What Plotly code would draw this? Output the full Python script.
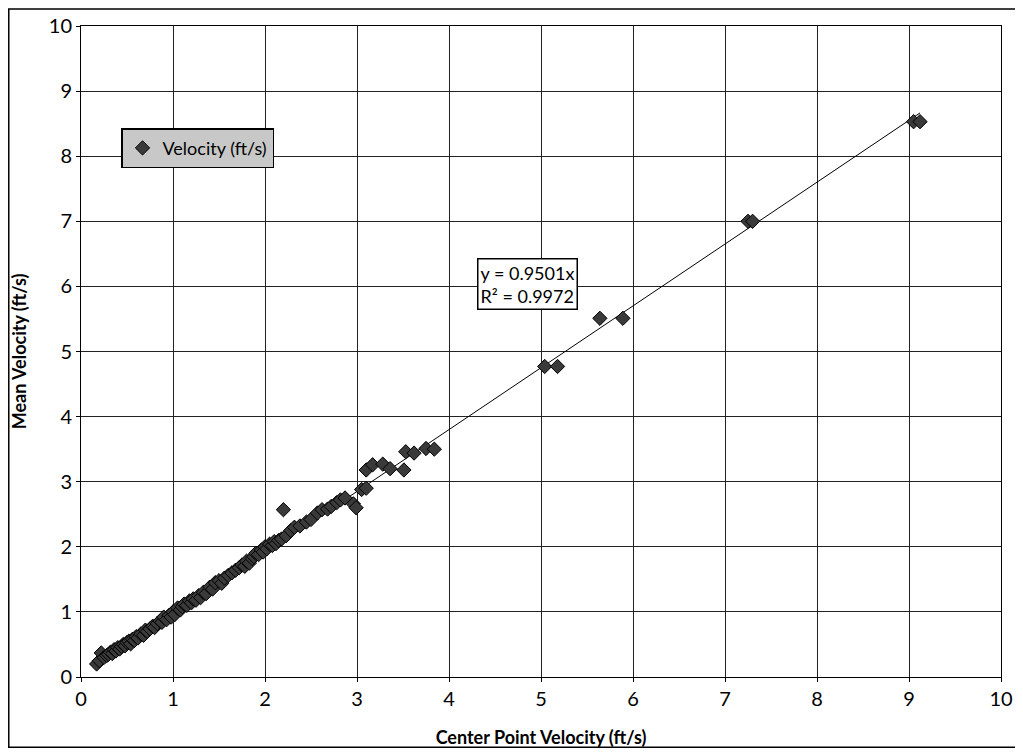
import plotly.graph_objects as go

# Center point velocity (ft/s)
center_velocity = [
    0.17, 0.20, 0.22, 0.25, 0.28, 0.30, 0.32, 0.34, 0.36, 0.38, 0.40, 0.42, 0.44, 0.46, 0.48,
    0.50, 0.52, 0.54, 0.56, 0.58, 0.60, 0.62, 0.65, 0.68, 0.70, 0.72, 0.75, 0.78, 0.80, 0.83,
    0.86, 0.88, 0.90, 0.93, 0.96, 0.98, 1.00, 1.02, 1.05, 1.08, 1.10, 1.12, 1.15, 1.18, 1.20,
    1.22, 1.25, 1.28, 1.30, 1.33, 1.36, 1.40, 1.43, 1.46, 1.50, 1.53, 1.56, 1.60, 1.64, 1.68,
    1.72, 1.75, 1.78, 1.80, 1.83, 1.86, 1.88, 1.90, 1.93, 1.96, 1.98, 2.00, 2.02, 2.05, 2.08,
    2.10, 2.12, 2.15, 2.18,
    2.20, 2.23, 2.28, 2.32, 2.38, 2.45, 2.50, 2.57, 2.62, 2.68, 2.72, 2.78, 2.82, 2.87, 2.96,
    2.99, 3.05, 3.10, 3.10, 3.17, 3.28, 3.36, 3.51, 3.53, 3.62, 3.75, 3.84,
    5.04, 5.18, 5.64, 5.89, 7.25, 7.30, 9.05, 9.12,
]
# Mean velocity (ft/s)
mean_velocity = [
    0.20, 0.25, 0.37, 0.30, 0.33, 0.35, 0.38, 0.36, 0.42, 0.40, 0.45, 0.43, 0.47, 0.50, 0.48,
    0.53, 0.55, 0.51, 0.58, 0.56, 0.62, 0.60, 0.66, 0.64, 0.72, 0.70, 0.74, 0.78, 0.76, 0.82,
    0.86, 0.84, 0.92, 0.88, 0.95, 0.92, 1.00, 0.96, 1.06, 1.03, 1.08, 1.12, 1.10, 1.17, 1.14,
    1.20, 1.18, 1.25, 1.22, 1.30, 1.28, 1.38, 1.35, 1.45, 1.48, 1.44, 1.52, 1.56, 1.60, 1.64,
    1.68, 1.72, 1.70, 1.78, 1.75, 1.82, 1.85, 1.90, 1.88, 1.95, 1.92, 2.00, 1.97, 2.04, 2.02,
    2.08, 2.05, 2.10, 2.12,
    2.57, 2.17, 2.25, 2.30, 2.32, 2.38, 2.42, 2.52, 2.57, 2.58, 2.62, 2.68, 2.72, 2.75, 2.66,
    2.60, 2.88, 2.90, 3.18, 3.26, 3.27, 3.20, 3.18, 3.46, 3.44, 3.51, 3.50,
    4.77, 4.77, 5.51, 5.51, 7.00, 7.00, 8.53, 8.53,
]

trend_slope = 0.9501
trend_r2 = 0.9972
tick_values = [0, 1, 2, 3, 4, 5, 6, 7, 8, 9, 10]

FONT = "Lato"

fig = go.Figure()

x_lo, x_hi = min(center_velocity), max(center_velocity)
fig.add_trace(go.Scatter(
    x=[x_lo, x_hi], y=[trend_slope * x_lo, trend_slope * x_hi],
    mode="lines", line=dict(color="black", width=1), showlegend=False, hoverinfo="skip",
))
fig.add_trace(go.Scatter(
    x=center_velocity, y=mean_velocity, mode="markers", name="Velocity (ft/s)",
    marker=dict(symbol="diamond", size=11, color="#3a3a3a", line=dict(color="#000000", width=1)),
))

fig.add_annotation(
    x=4.85, y=6.04, xref="x", yref="y", showarrow=False,
    text=f"y = {trend_slope}x<br>R² = {trend_r2}",
    font=dict(family=FONT, size=18, color="black"), align="left",
    bgcolor="white", bordercolor="black", borderwidth=1.5, borderpad=2,
)

# outer chart border
fig.add_shape(type="rect", xref="paper", yref="paper",
              x0=-0.0785, x1=1.0215, y0=-0.108, y1=1.026,
              line=dict(color="black", width=1.5), fillcolor="rgba(0,0,0,0)", layer="below")

axis_common = dict(
    range=[0, 10], tickvals=tick_values, showgrid=True, gridcolor="#222222", gridwidth=1,
    showline=True, linecolor="black", linewidth=1, mirror=True, zeroline=False,
    ticks="outside", ticklen=4, tickcolor="black", automargin=False,
    tickfont=dict(family=FONT, size=20, color="black"),
)

fig.update_layout(
    width=1015, height=748,
    margin=dict(l=73, r=22, t=18, b=79),
    paper_bgcolor="white", plot_bgcolor="white",
    xaxis=dict(**axis_common,
               title=dict(text="<b>Center Point Velocity (ft/s)</b>", standoff=22,
                          font=dict(family=FONT, size=18, color="black"))),
    yaxis=dict(**axis_common,
               title=dict(text="<b>Mean Velocity (ft/s)</b>", standoff=21,
                          font=dict(family=FONT, size=18, color="black"))),
    legend=dict(x=0.0435, y=0.843, xanchor="left", yanchor="top",
                bgcolor="#c8c8c8", bordercolor="black", borderwidth=1.5,
                font=dict(family=FONT, size=18, color="black"),
                itemwidth=30, tracegroupgap=0),
    showlegend=True,
)

fig.write_html("out.html")
